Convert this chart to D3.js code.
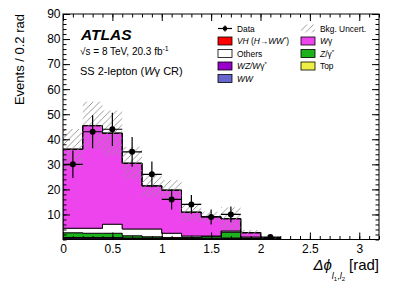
<!DOCTYPE html>
<html>
<head>
<meta charset="utf-8">
<script src="https://cdn.jsdelivr.net/npm/d3@7"></script>
<style>
  body { margin: 0; background: #fff; }
  text { font-family: "Liberation Sans", Arial, sans-serif; }
</style>
</head>
<body>
<svg id="chart" width="399" height="286"></svg>
<script>
// bin lower edges (width 0.2 rad)
const binEdges = [0, 0.2, 0.4, 0.6, 0.8, 1.0, 1.2, 1.4, 1.6, 1.8, 2.0, 2.2, 2.4, 2.6, 2.8, 3.0, 3.2];

// background components, stacked bottom -> top
const ww     = [0.3, 0.3, 0.3, 0.2, 0.2, 0.2, 0.1, 0.1, 0.1, 0.1, 0.2, 0, 0, 0, 0, 0];
const wz     = [0.4, 0.4, 0.4, 0.3, 0.3, 0.3, 0.3, 0.3, 0.4, 0.3, 0.5, 0, 0, 0, 0, 0];
const topBkg = [0.1, 0.1, 0.1, 0.1, 0.1, 0.1, 0, 0, 0.1, 0, 0, 0, 0, 0, 0, 0];
const zg     = [1.9, 1.7, 1.7, 0.9, 0.5, 0.2, 0.4, 0.7, 2.3, 0.2, 0, 0, 0, 0, 0, 0];
const others = [1.8, 2.0, 3.6, 2.7, 3.1, 1.7, 0.6, 0.3, 0.5, 0.4, 0, 0, 0, 0, 0, 0];
const wg     = [31.5, 40.9, 36.3, 26.2, 17.2, 17.2, 9.5, 7.7, 4.9, 1.7, 0, 0, 0, 0, 0, 0];
const vh     = [0.1, 0.1, 0.1, 0.1, 0, 0, 0, 0, 0, 0, 0, 0, 0, 0, 0, 0];

// total background uncertainty (symmetric)
const bkgUnc = [8, 9.5, 9, 6.5, 4.5, 4, 3.5, 2, 4.5, 1.1, 0.3, 0, 0, 0, 0, 0];

// observed events
const dataCounts = [30, 43, 44, 35, 26, 16, 14, 9, 10, 0, 1, 0, 0, 0, 0, 0];

const xMajor = [0, 0.5, 1, 1.5, 2, 2.5, 3];
const yMajor = [10, 20, 30, 40, 50, 60, 70, 80, 90];

const layers = [
    {name: "ww", values: ww, color: "#6666cc"},
    {name: "wz", values: wz, color: "#9900cc"},
    {name: "top", values: topBkg, color: "#eeee44"},
    {name: "zg", values: zg, color: "#1cb21c"},
    {name: "others", values: others, color: "#ffffff"},
    {name: "wg", values: wg, color: "#ee44ee"},
    {name: "vh", values: vh, color: "#ff0000"}
];

const svg = d3.select("#chart");
const pLeft = 63, pRight = 379, pTop = 14, pBottom = 239.5;

const x = d3.scaleLinear().domain([0, 3.2]).range([pLeft, pRight]);
const y = d3.scaleLinear().domain([0, 90]).range([pBottom, pTop]);

const nBins = binEdges.length - 1;

// build stack
const rows = d3.range(nBins).map(function(i) {
    const r = {};
    layers.forEach(function(l) { r[l.name] = l.values[i]; });
    return r;
});
const stacked = d3.stack().keys(layers.map(function(l) { return l.name; }))(rows);

const defs = svg.append("defs");
const hatch = defs.append("pattern")
    .attr("id", "hatch")
    .attr("patternUnits", "userSpaceOnUse")
    .attr("width", 6.5)
    .attr("height", 6.5);
hatch.append("path")
    .attr("d", "M-1,1 l2,-2 M0,6.5 l6.5,-6.5 M5.5,7.5 l2,-2")
    .attr("stroke", "#8f8f8f")
    .attr("stroke-width", 0.9);

defs.append("clipPath").attr("id", "plot-clip")
    .append("rect")
    .attr("x", pLeft).attr("y", pTop)
    .attr("width", pRight - pLeft).attr("height", pBottom - pTop);

const plot = svg.append("g").attr("clip-path", "url(#plot-clip)");

// step area with one extra point to close the last bin
const area = d3.area()
    .curve(d3.curveStepAfter)
    .x(function(d) { return x(d.edge); })
    .y0(function(d) { return y(d.lo); })
    .y1(function(d) { return y(d.hi); });

stacked.forEach(function(s, k) {
    const pts = s.map(function(d, i) { return {edge: binEdges[i], lo: d[0], hi: d[1]}; });
    pts.push({edge: binEdges[nBins], lo: s[nBins - 1][0], hi: s[nBins - 1][1]});
    plot.append("path")
        .datum(pts)
        .attr("d", area)
        .attr("fill", layers[k].color)
        .attr("stroke", "#000")
        .attr("stroke-width", 0.9);
});

// uncertainty band
const totals = rows.map(function(r) { return d3.sum(layers, function(l) { return r[l.name]; }); });
plot.selectAll(".unc")
    .data(d3.range(nBins).filter(function(i) { return bkgUnc[i] > 0; }))
    .enter().append("rect")
    .attr("x", function(i) { return x(binEdges[i]); })
    .attr("width", function(i) { return x(binEdges[i + 1]) - x(binEdges[i]); })
    .attr("y", function(i) { return y(totals[i] + bkgUnc[i]); })
    .attr("height", function(i) { return y(Math.max(0, totals[i] - bkgUnc[i])) - y(totals[i] + bkgUnc[i]); })
    .attr("fill", "url(#hatch)");

// data points
const pts = plot.selectAll(".pt")
    .data(d3.range(nBins).filter(function(i) { return dataCounts[i] > 0; }))
    .enter().append("g");
pts.append("line")
    .attr("x1", function(i) { return x(binEdges[i]); })
    .attr("x2", function(i) { return x(binEdges[i + 1]); })
    .attr("y1", function(i) { return y(dataCounts[i]); })
    .attr("y2", function(i) { return y(dataCounts[i]); })
    .attr("stroke", "#000").attr("stroke-width", 1.2);
pts.append("line")
    .attr("x1", function(i) { return x(binEdges[i] + 0.1); })
    .attr("x2", function(i) { return x(binEdges[i] + 0.1); })
    .attr("y1", function(i) { return y(dataCounts[i] + Math.sqrt(dataCounts[i])); })
    .attr("y2", function(i) { return y(Math.max(0, dataCounts[i] - Math.sqrt(dataCounts[i]))); })
    .attr("stroke", "#000").attr("stroke-width", 1.2);
pts.append("circle")
    .attr("cx", function(i) { return x(binEdges[i] + 0.1); })
    .attr("cy", function(i) { return y(dataCounts[i]); })
    .attr("r", 3)
    .attr("fill", "#000");

// axes, ROOT style ticks pointing inward on all four sides
const xMinor = d3.range(0, 3.21, 0.1).map(function(v) { return +v.toFixed(1); });
const yMinor = d3.range(0, 91, 2);

function drawAxis(axisFn, scale, pos, major, minor, labels) {
    const gMin = svg.append("g").attr("transform", pos)
        .call(axisFn(scale).tickValues(minor).tickSize(-3.5).tickFormat(""));
    gMin.select(".domain").remove();
    const gMaj = svg.append("g").attr("transform", pos)
        .call(axisFn(scale).tickValues(major).tickSize(-7).tickPadding(labels ? 5 : 0)
            .tickFormat(labels ? function(d) { return String(d); } : ""));
    gMaj.select(".domain").remove();
    gMaj.selectAll("text").style("font-size", "12px").attr("fill", "#000")
        .style("font-family", "'Liberation Sans', Arial, sans-serif");
    return gMaj;
}
drawAxis(d3.axisBottom, x, "translate(0," + pBottom + ")", xMajor, xMinor, true);
drawAxis(d3.axisTop, x, "translate(0," + pTop + ")", xMajor, xMinor, false);
const yAx = drawAxis(d3.axisLeft, y, "translate(" + pLeft + ",0)", yMajor, yMinor, true);
yAx.selectAll("text").attr("x", -2.5);
drawAxis(d3.axisRight, y, "translate(" + pRight + ",0)", yMajor, yMinor, false);

svg.append("rect")
    .attr("x", pLeft).attr("y", pTop)
    .attr("width", pRight - pLeft).attr("height", pBottom - pTop)
    .attr("fill", "none").attr("stroke", "#000").attr("stroke-width", 1);

// axis titles
svg.append("text")
    .attr("transform", "translate(24," + pTop + ") rotate(-90)")
    .attr("text-anchor", "end")
    .style("font-size", "13px")
    .text("Events / 0.2 rad");

const xt = svg.append("text")
    .attr("x", pRight).attr("y", 270)
    .attr("text-anchor", "end")
    .style("font-size", "15px");
xt.append("tspan").style("font-style", "italic").text("Δϕ");
xt.append("tspan").attr("dy", 9).style("font-size", "9px").style("font-style", "italic").text("l");
xt.append("tspan").attr("dy", 2).style("font-size", "6px").text("1");
xt.append("tspan").attr("dy", -2).style("font-size", "9px").text(",");
xt.append("tspan").style("font-size", "9px").style("font-style", "italic").text("l");
xt.append("tspan").attr("dy", 2).style("font-size", "6px").text("2");
xt.append("tspan").attr("dy", -11).attr("dx", 4).text("[rad]");

// labels
svg.append("text")
    .attr("x", 81).attr("y", 39.5)
    .style("font-size", "15.5px").style("font-weight", "bold").style("font-style", "italic")
    .text("ATLAS");
const lumi = svg.append("text").attr("x", 80).attr("y", 55).style("font-size", "10px");
lumi.append("tspan").text("√s = 8 TeV, 20.3 fb");
lumi.append("tspan").attr("dy", -4).style("font-size", "7px").text("-1");
const reg = svg.append("text").attr("x", 80).attr("y", 75).style("font-size", "11px");
reg.append("tspan").text("SS 2-lepton (");
reg.append("tspan").style("font-style", "italic").text("W");
reg.append("tspan").text("γ CR)");

// legend
const legRows = [28.5, 41, 53.5, 66, 78.5];
const col1 = 218, col2 = 301, boxW = 14, boxH = 8;

function legBox(cx, cy, color) {
    svg.append("rect")
        .attr("x", cx).attr("y", cy - boxH / 2)
        .attr("width", boxW).attr("height", boxH)
        .attr("fill", color).attr("stroke", "#000").attr("stroke-width", 0.8);
}
function legText(cx, cy, parts) {
    const t = svg.append("text").attr("x", cx + 19).attr("y", cy + 3).style("font-size", "8.4px");
    parts.forEach(function(p) {
        const s = t.append("tspan").text(p[0]);
        if (p[1]) s.style("font-style", "italic");
        if (p[2]) s.attr("dy", p[2]).style("font-size", p[3] || "8.4px");
    });
}

// Data entry
svg.append("line").attr("x1", col1).attr("x2", col1 + boxW)
    .attr("y1", legRows[0]).attr("y2", legRows[0]).attr("stroke", "#000").attr("stroke-width", 1.2);
svg.append("line").attr("x1", col1 + boxW / 2).attr("x2", col1 + boxW / 2)
    .attr("y1", legRows[0] - 3).attr("y2", legRows[0] + 3).attr("stroke", "#000").attr("stroke-width", 1.2);
svg.append("circle").attr("cx", col1 + boxW / 2).attr("cy", legRows[0]).attr("r", 2.3).attr("fill", "#000");
legText(col1, legRows[0], [["Data"]]);

legBox(col1, legRows[1], "#ff0000");
legText(col1, legRows[1], [["VH", true], [" ("], ["H", true], ["→"], ["WW", true], ["*", false, -3, "6px"], [")", false, 3]]);
legBox(col1, legRows[2], "#ffffff");
legText(col1, legRows[2], [["Others"]]);
legBox(col1, legRows[3], "#9900cc");
legText(col1, legRows[3], [["WZ/W", true], ["γ"], ["*", false, -3, "6px"]]);
legBox(col1, legRows[4], "#6666cc");
legText(col1, legRows[4], [["WW", true]]);

svg.append("rect")
    .attr("x", col2).attr("y", legRows[0] - boxH / 2)
    .attr("width", boxW).attr("height", boxH)
    .attr("fill", "url(#hatch)");
legText(col2, legRows[0], [["Bkg. Uncert."]]);
legBox(col2, legRows[1], "#ee44ee");
legText(col2, legRows[1], [["W", true], ["γ"]]);
legBox(col2, legRows[2], "#1cb21c");
legText(col2, legRows[2], [["Z", true], ["/γ"], ["*", false, -3, "6px"]]);
legBox(col2, legRows[3], "#eeee44");
legText(col2, legRows[3], [["Top"]]);
</script>
</body>
</html>
